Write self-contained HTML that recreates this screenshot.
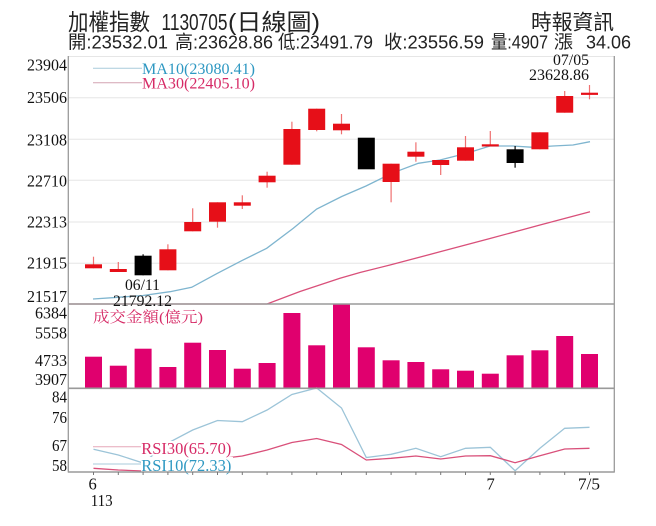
<!DOCTYPE html>
<html><head><meta charset="utf-8"><style>
html,body{margin:0;padding:0;background:#fff;}
svg{display:block;}
.s{font-family:"Liberation Serif","Noto Serif CJK SC",serif;}
.h{font-family:"Liberation Sans","Noto Sans CJK TC",sans-serif;fill:#222;}
</style></head><body>
<svg width="656" height="526" viewBox="0 0 656 526" xmlns="http://www.w3.org/2000/svg">
<rect width="656" height="526" fill="#fff"/>
<!-- header -->
<g class="h">
<text x="68" y="30" font-size="23" textLength="82" lengthAdjust="spacingAndGlyphs">加權指數</text>
<text x="161.5" y="30" font-size="23" textLength="66" lengthAdjust="spacingAndGlyphs">1130705</text>
<text x="228" y="30" font-size="23" textLength="92" lengthAdjust="spacingAndGlyphs">(日線圖)</text>
<text x="531" y="29.5" font-size="21" textLength="83" lengthAdjust="spacingAndGlyphs">時報資訊</text>
<text x="68" y="48.5" font-size="18.5" textLength="100" lengthAdjust="spacingAndGlyphs">開:23532.01</text>
<text x="175" y="48.5" font-size="18.5" textLength="98" lengthAdjust="spacingAndGlyphs">高:23628.86</text>
<text x="278" y="48.5" font-size="18.5" textLength="95" lengthAdjust="spacingAndGlyphs">低:23491.79</text>
<text x="384" y="48.5" font-size="18.5" textLength="100" lengthAdjust="spacingAndGlyphs">收:23556.59</text>
<text x="491" y="48.5" font-size="18.5" textLength="57" lengthAdjust="spacingAndGlyphs">量:4907</text>
<text x="554" y="48.5" font-size="18.5" textLength="19" lengthAdjust="spacingAndGlyphs">漲</text>
<text x="586" y="48.5" font-size="18.5" textLength="45" lengthAdjust="spacingAndGlyphs">34.06</text>
</g>
<!-- grid -->
<g stroke="#e6e6e6" stroke-width="1">
<line x1="68" y1="56.5" x2="614" y2="56.5"/>
<line x1="68" y1="97.7" x2="614" y2="97.7"/>
<line x1="68" y1="139.3" x2="614" y2="139.3"/>
<line x1="68" y1="180.3" x2="614" y2="180.3"/>
<line x1="68" y1="222" x2="614" y2="222"/>
<line x1="68" y1="263.3" x2="614" y2="263.3"/>
</g>
<!-- y labels -->
<g class="s" font-size="16.5" fill="#111">
<text x="27" y="70.5" textLength="40" lengthAdjust="spacingAndGlyphs">23904</text>
<text x="27" y="103" textLength="40" lengthAdjust="spacingAndGlyphs">23506</text>
<text x="27" y="145.5" textLength="40" lengthAdjust="spacingAndGlyphs">23108</text>
<text x="27" y="186.5" textLength="40" lengthAdjust="spacingAndGlyphs">22710</text>
<text x="27" y="227.5" textLength="40" lengthAdjust="spacingAndGlyphs">22313</text>
<text x="27" y="268.5" textLength="40" lengthAdjust="spacingAndGlyphs">21915</text>
<text x="27" y="302" textLength="40" lengthAdjust="spacingAndGlyphs">21517</text>
<text x="35" y="318.5" textLength="32" lengthAdjust="spacingAndGlyphs">6384</text>
<text x="35" y="338.5" textLength="32" lengthAdjust="spacingAndGlyphs">5558</text>
<text x="35" y="366" textLength="32" lengthAdjust="spacingAndGlyphs">4733</text>
<text x="35" y="385" textLength="32" lengthAdjust="spacingAndGlyphs">3907</text>
<text x="52" y="402.5" textLength="15" lengthAdjust="spacingAndGlyphs">84</text>
<text x="52" y="423" textLength="15" lengthAdjust="spacingAndGlyphs">76</text>
<text x="52" y="451" textLength="15" lengthAdjust="spacingAndGlyphs">67</text>
<text x="52" y="471" textLength="15" lengthAdjust="spacingAndGlyphs">58</text>
</g>
<!-- MA lines -->
<polyline fill="none" stroke="#7fb5cf" stroke-width="1.3" points="93,299 118,297.3 143,295.5 170,291.7 191.7,287.3 216.7,273.7 241.7,260.7 266.7,248.3 293.3,228.3 316.7,209 341.7,196.5 366,186 391.7,173.3 418.3,163.3 440,160 466.7,153.3 490,146 513,146 533,147.3 553,146 573,145 590,141.7"/>
<polyline fill="none" stroke="#d9507a" stroke-width="1.3" points="68,304 267,304 300,291.5 340,278.3 360,272.5 390,265 440,251.8 490,238.5 540,225 590,211.7"/>
<!-- MA legend -->
<line x1="93" y1="68.3" x2="142" y2="68.3" stroke="#a9cbdb" stroke-width="1"/>
<line x1="93" y1="82.7" x2="142" y2="82.7" stroke="#d4a3b2" stroke-width="1"/>
<text class="s" x="142" y="74" font-size="16" fill="#2e98c2" textLength="113" lengthAdjust="spacingAndGlyphs">MA10(23080.41)</text>
<text class="s" x="142" y="88.3" font-size="16" fill="#d62a66" textLength="113" lengthAdjust="spacingAndGlyphs">MA30(22405.10)</text>
<text class="s" x="553" y="65" font-size="15.5" fill="#111" textLength="36" lengthAdjust="spacingAndGlyphs">07/05</text>
<text class="s" x="529" y="80" font-size="15.5" fill="#111" textLength="60" lengthAdjust="spacingAndGlyphs">23628.86</text>
<!-- wicks -->
<g stroke="#ef7070" stroke-width="1.2">
<line x1="93.5" y1="256.7" x2="93.5" y2="268.3"/>
<line x1="118.3" y1="262" x2="118.3" y2="272"/>
<line x1="167.9" y1="244.3" x2="167.9" y2="270.3"/>
<line x1="192.7" y1="208.3" x2="192.7" y2="231.3"/>
<line x1="217.5" y1="202.3" x2="217.5" y2="227.7"/>
<line x1="242.3" y1="195.3" x2="242.3" y2="209"/>
<line x1="267.1" y1="171.7" x2="267.1" y2="187.7"/>
<line x1="291.9" y1="121.7" x2="291.9" y2="164.7"/>
<line x1="316.7" y1="108.7" x2="316.7" y2="131.3"/>
<line x1="341.5" y1="114" x2="341.5" y2="134.3"/>
<line x1="391.1" y1="163.7" x2="391.1" y2="202.3"/>
<line x1="415.9" y1="142.3" x2="415.9" y2="161.7"/>
<line x1="440.7" y1="160" x2="440.7" y2="175"/>
<line x1="465.5" y1="136" x2="465.5" y2="160.7"/>
<line x1="490.3" y1="131" x2="490.3" y2="146.3"/>
<line x1="539.9" y1="132.3" x2="539.9" y2="149.3"/>
<line x1="564.7" y1="91" x2="564.7" y2="112.7"/>
<line x1="589.5" y1="85" x2="589.5" y2="99.3"/>
</g>
<g stroke="#000" stroke-width="1.2">
<line x1="143.1" y1="254.3" x2="143.1" y2="275.3"/>
<line x1="515.1" y1="146" x2="515.1" y2="167.7"/>
</g>
<!-- bodies -->
<g fill="#e60f18">
<rect x="85" y="264.3" width="17" height="4"/>
<rect x="109.8" y="269" width="17" height="3"/>
<rect x="159.4" y="249.3" width="17" height="21"/>
<rect x="184.2" y="222" width="17" height="9.3"/>
<rect x="209" y="202.3" width="17" height="19.4"/>
<rect x="233.8" y="202.3" width="17" height="3.4"/>
<rect x="258.6" y="175.7" width="17" height="6.6"/>
<rect x="283.4" y="129" width="17" height="35.7"/>
<rect x="308.2" y="108.7" width="17" height="21.3"/>
<rect x="333" y="123.7" width="17" height="6.6"/>
<rect x="382.6" y="163.7" width="17" height="18.3"/>
<rect x="407.4" y="151.7" width="17" height="5"/>
<rect x="432.2" y="160" width="17" height="5"/>
<rect x="457" y="147.3" width="17" height="13.4"/>
<rect x="481.8" y="144.3" width="17" height="2.2"/>
<rect x="531.4" y="132.3" width="17" height="17"/>
<rect x="556.2" y="96" width="17" height="16.7"/>
<rect x="581" y="92.7" width="17" height="2.2"/>
</g>
<g fill="#000">
<rect x="134.6" y="255.7" width="17" height="19.6"/>
<rect x="357.8" y="137.7" width="17" height="31.6"/>
<rect x="506.6" y="149.3" width="17" height="13.7"/>
</g>
<!-- volume bars -->
<g fill="#e0006e">
<rect x="85" y="356.7" width="17" height="31.3"/>
<rect x="109.8" y="365.7" width="17" height="22.3"/>
<rect x="134.6" y="348.7" width="17" height="39.3"/>
<rect x="159.4" y="367" width="17" height="21"/>
<rect x="184.2" y="342.7" width="17" height="45.3"/>
<rect x="209" y="350" width="17" height="38"/>
<rect x="233.8" y="368.7" width="17" height="19.3"/>
<rect x="258.6" y="363" width="17" height="25"/>
<rect x="283.4" y="313" width="17" height="75"/>
<rect x="308.2" y="345.3" width="17" height="42.7"/>
<rect x="333" y="304" width="17" height="84"/>
<rect x="357.8" y="347.3" width="17" height="40.7"/>
<rect x="382.6" y="360.3" width="17" height="27.7"/>
<rect x="407.4" y="362" width="17" height="26"/>
<rect x="432.2" y="369.3" width="17" height="18.7"/>
<rect x="457" y="370.7" width="17" height="17.3"/>
<rect x="481.8" y="373.7" width="17" height="14.3"/>
<rect x="506.6" y="355.3" width="17" height="32.7"/>
<rect x="531.4" y="350.3" width="17" height="37.7"/>
<rect x="556.2" y="336" width="17" height="52"/>
<rect x="581" y="354" width="17" height="34"/>
</g>
<text class="s" x="93" y="322" font-size="15" fill="#d62a66" textLength="110" lengthAdjust="spacingAndGlyphs">成交金額(億元)</text>
<!-- RSI lines -->
<polyline fill="none" stroke="#9cc4d8" stroke-width="1.3" points="93.5,449.3 118.3,455 143.1,463 167.9,443 192.7,430 217.5,420.5 242.3,421.7 267.1,410 291.9,394.5 316.7,388 341.5,408 366.3,457.5 391.1,454.3 415.9,448.3 440.7,456.7 465.5,448.3 490.3,447.3 515.1,470.7 539.9,448.3 564.7,428.3 589.5,427.3"/>
<polyline fill="none" stroke="#d9507a" stroke-width="1.3" points="93.5,468.3 118.3,470 143.1,471 167.9,466 192.7,462 217.5,459 242.3,456 267.1,450 291.9,442.5 316.7,438.5 341.5,444.5 366.3,460 391.1,458.3 415.9,456 440.7,459 465.5,456 490.3,455.7 515.1,462.7 539.9,455.7 564.7,449 589.5,448.3"/>
<!-- RSI legend -->
<rect x="141" y="441" width="92" height="14.5" fill="#fff"/>
<rect x="141" y="457" width="92" height="14.5" fill="#fff"/>
<line x1="93" y1="446.7" x2="141" y2="446.7" stroke="#e6a7b8" stroke-width="1"/>
<line x1="93" y1="464" x2="141" y2="464" stroke="#a9cbdb" stroke-width="1"/>
<text class="s" x="141.3" y="454" font-size="16.5" fill="#d62a66" textLength="90" lengthAdjust="spacingAndGlyphs">RSI30(65.70)</text>
<text class="s" x="141.3" y="471" font-size="16.5" fill="#2e98c2" textLength="90" lengthAdjust="spacingAndGlyphs">RSI10(72.33)</text>
<!-- frame -->
<g stroke="#9a9a9a" fill="none">
<line x1="68.3" y1="56" x2="68.3" y2="472.5" stroke-width="1.3"/>
<line x1="614.3" y1="56" x2="614.3" y2="472.5" stroke-width="1.3"/>
<line x1="68" y1="304" x2="614.5" y2="304" stroke-width="1.6"/>
<line x1="68" y1="388.3" x2="614.5" y2="388.3" stroke-width="1.6"/>
<line x1="68" y1="472" x2="614.5" y2="472" stroke-width="1.6"/>
</g>
<g stroke="#777" stroke-width="1">
<line x1="93.5" y1="472" x2="93.5" y2="475"/><line x1="118.3" y1="472" x2="118.3" y2="475"/><line x1="143.1" y1="472" x2="143.1" y2="475"/><line x1="167.9" y1="472" x2="167.9" y2="475"/><line x1="192.7" y1="472" x2="192.7" y2="475"/><line x1="217.5" y1="472" x2="217.5" y2="475"/><line x1="242.3" y1="472" x2="242.3" y2="475"/><line x1="267.1" y1="472" x2="267.1" y2="475"/><line x1="291.9" y1="472" x2="291.9" y2="475"/><line x1="316.7" y1="472" x2="316.7" y2="475"/><line x1="341.5" y1="472" x2="341.5" y2="475"/><line x1="366.3" y1="472" x2="366.3" y2="475"/><line x1="391.1" y1="472" x2="391.1" y2="475"/><line x1="415.9" y1="472" x2="415.9" y2="475"/><line x1="440.7" y1="472" x2="440.7" y2="475"/><line x1="465.5" y1="472" x2="465.5" y2="475"/><line x1="490.3" y1="472" x2="490.3" y2="475"/><line x1="515.1" y1="472" x2="515.1" y2="475"/><line x1="539.9" y1="472" x2="539.9" y2="475"/><line x1="564.7" y1="472" x2="564.7" y2="475"/><line x1="589.5" y1="472" x2="589.5" y2="475"/>
</g>
<!-- annotations -->
<text class="s" x="125" y="290" font-size="16" fill="#111" textLength="35" lengthAdjust="spacingAndGlyphs">06/11</text>
<text class="s" x="113" y="306" font-size="16" fill="#111" textLength="59" lengthAdjust="spacingAndGlyphs">21792.12</text>
<!-- x labels -->
<g class="s" font-size="16.5" fill="#111">
<text x="88.5" y="489.5">6</text>
<text x="90.7" y="506" textLength="22" lengthAdjust="spacingAndGlyphs">113</text>
<text x="486.5" y="489.5">7</text>
<text x="578" y="489.5" textLength="22" lengthAdjust="spacingAndGlyphs">7/5</text>
</g>
</svg>
</body></html>
